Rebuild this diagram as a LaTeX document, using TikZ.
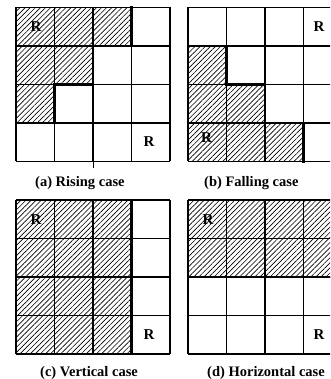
\documentclass[tikz,border=0pt]{standalone}
\usepackage{fontspec}
\setmainfont{Liberation Serif}
\usetikzlibrary{patterns.meta}
\tikzset{
  gridline/.style={line width=1.1pt, black},
  stairline/.style={line width=2.6pt, black, line cap=rect, line join=miter},
  hatch/.style={pattern={Lines[angle=45,distance=3.6pt,line width=0.65pt]}},
  rlabel/.style={font=\fontsize{15}{17}\selectfont\bfseries, inner sep=0pt},
  caption/.style={font=\fontsize{14.5}{17}\selectfont\bfseries, inner sep=0pt, anchor=base west},
}
\newcommand{\cellgrid}{%
  \foreach \i in {0,...,4} {
    \draw[gridline] (\i*38.5,0) -- (\i*38.5,154);
    \draw[gridline] (0,\i*38.5) -- (154,\i*38.5);
  }}
\begin{document}
\begin{tikzpicture}[x=1pt,y=-1pt]
\clip (0,0) rectangle (330,379);
\fill[white] (0,0) rectangle (330,379);
% (a) Rising case
\begin{scope}[shift={(16,7.5)}]
  \fill[hatch] (0,0) -- (115.5,0) -- (115.5,38.5) -- (77,38.5) -- (77,77) -- (38.5,77) -- (38.5,115.5) -- (0,115.5) -- cycle;
  \cellgrid
  \draw[stairline] (115.5,0) -- (115.5,38.5) -- (77,38.5) -- (77,77) -- (38.5,77) -- (38.5,115.5) -- (0,115.5);
  \node[rlabel] (ra1) at (20,19.5) {R};
  \node[rlabel] (ra2) at (133,134.5) {R};
  \coordinate (ta) at (77,154);
  \coordinate (tb) at (77,160.5);
  \draw[line width=1pt] (ta) -- (tb);
\end{scope}
\node[caption] (capa) at (35,186.5) {(a) Rising case};
% (b) Falling case
\begin{scope}[shift={(188,7.5)}]
  \fill[hatch] (0,38.5) -- (38.5,38.5) -- (38.5,77) -- (77,77) -- (77,115.5) -- (115.5,115.5) -- (115.5,154) -- (0,154) -- cycle;
  \cellgrid
  \draw[stairline] (0,38.5) -- (38.5,38.5) -- (38.5,77) -- (77,77) -- (77,115.5) -- (115.5,115.5) -- (115.5,154);
  \node[rlabel] (rb1) at (131,19.5) {R};
  \node[rlabel] (rb2) at (18.5,130.5) {R};
\end{scope}
\node[caption] (capb) at (204,186.5) {(b) Falling case};
% (c) Vertical case
\begin{scope}[shift={(16,200)}]
  \fill[hatch] (0,0) rectangle (115.5,154);
  \cellgrid
  \draw[stairline] (115.5,0) -- (115.5,154);
  \node[rlabel] (rc1) at (20,19.5) {R};
  \node[rlabel] (rc2) at (133,134.5) {R};
\end{scope}
\node[caption] (capc) at (40,376.5) {(c) Vertical case};
% (d) Horizontal case
\begin{scope}[shift={(188,200)}]
  \fill[hatch] (0,0) rectangle (154,77);
  \cellgrid
  \draw[stairline] (0,77) -- (154,77);
  \node[rlabel] (rd1) at (20,19.5) {R};
  \node[rlabel] (rd2) at (131,134.5) {R};
\end{scope}
\node[caption] (capd) at (207,376.5) {(d) Horizontal case};
\end{tikzpicture}
\end{document}
